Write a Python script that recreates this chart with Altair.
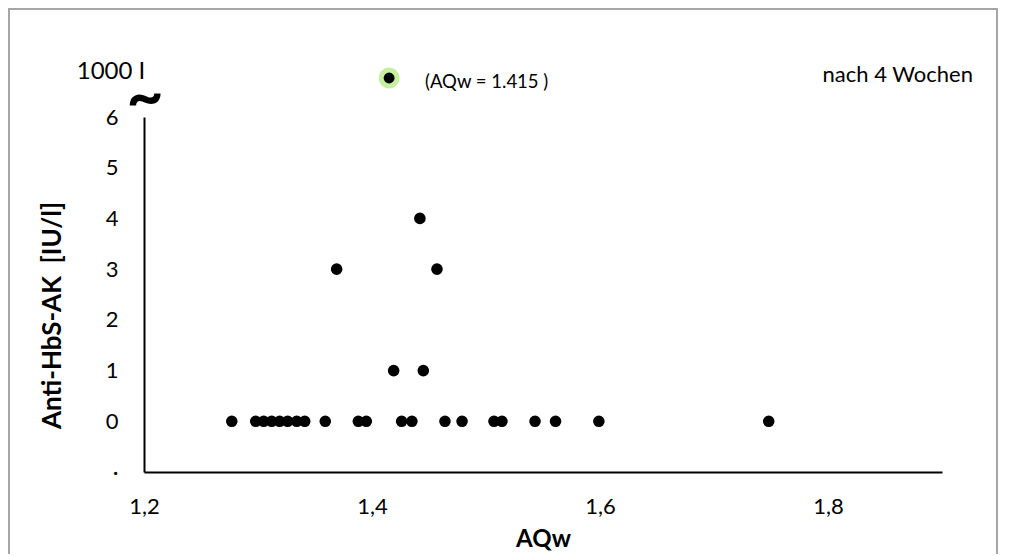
import altair as alt
import pandas as pd

# AQw values and Anti-HbS-AK titres (IU/l)
aqw = [1.277, 1.298, 1.305, 1.312, 1.319, 1.326, 1.334, 1.341, 1.359, 1.388,
       1.395, 1.426, 1.435, 1.464, 1.479, 1.507, 1.514, 1.543, 1.561, 1.599,
       1.748, 1.419, 1.445, 1.369, 1.457, 1.442]
titre = [0, 0, 0, 0, 0, 0, 0, 0, 0, 0,
         0, 0, 0, 0, 0, 0, 0, 0, 0, 0,
         0, 1, 1, 3, 3, 4]

# outlier above the axis break (1000 IU/l)
outlier_aqw = [1.415]
outlier_label = ["(AQw = 1.415 )"]

x_ticks = [1.2, 1.4, 1.6, 1.8]
y_ticks = [-1, 0, 1, 2, 3, 4, 5, 6]

FONT = "Lato"

df = pd.DataFrame({"aqw": aqw, "titre": titre})
df_out = pd.DataFrame({"aqw": outlier_aqw, "label": outlier_label})
one = pd.DataFrame({"k": [0]})

xscale = alt.Scale(domain=[1.2, 1.9], nice=False, zero=False)
yscale = alt.Scale(domain=[-1, 6], nice=False, zero=False)

x_axis = alt.Axis(
    values=x_ticks, format=".1f", labelExpr="replace(datum.label, '.', ',')",
    ticks=False, tickSize=0, grid=False, domainColor="black", domainWidth=2,
    labelFont=FONT, labelFontSize=22, labelColor="black", labelPadding=24,
    labelFlush=False, labelOverlap=False, labelBaseline="top",
    title="AQw", titleFont=FONT, titleFontSize=24, titleFontWeight="bold",
    titleColor="black", titleX=399, titleY=67, titleBaseline="middle",
    titleAlign="center",
)
y_axis = alt.Axis(
    values=y_ticks, labelExpr="datum.value == -1 ? '·' : datum.label",
    ticks=False, tickSize=0, grid=False, domainColor="black", domainWidth=2,
    labelFont=FONT, labelFontSize=22, labelColor="black", labelPadding=26,
    labelOverlap=False, labelFlush=False, labelBaseline="middle",
    title="Anti-HbS-AK\u00a0\u00a0[IU/l]", titleFont=FONT, titleFontSize=26,
    titleFontWeight="bold", titleColor="black", titleAngle=270,
    titleX=-92, titleY=198, titleBaseline="middle", titleAlign="center",
)

border = alt.Chart(one).mark_rect(
    fillOpacity=0, stroke="#a6a6a6", strokeWidth=2
).encode(
    x=alt.value(-135), x2=alt.value(853), y=alt.value(-108), y2=alt.value(700)
)

points = alt.Chart(df).mark_circle(size=135, color="black", opacity=1).encode(
    x=alt.X("aqw:Q", scale=xscale, axis=x_axis),
    y=alt.Y("titre:Q", scale=yscale, axis=y_axis),
)

outlier = alt.Chart(df_out).mark_point(
    shape="circle", filled=True, fill="black", stroke="#c6efa0",
    strokeWidth=5, size=254, opacity=1, fillOpacity=1, strokeOpacity=1
).encode(
    x=alt.X("aqw:Q", scale=xscale),
    y=alt.value(-39),
)

outlier_text = alt.Chart(df_out).mark_text(
    font=FONT, fontSize=18.5, color="black", align="left", baseline="middle"
).encode(
    x=alt.value(281), y=alt.value(-35), text="label:N"
)

break_value = alt.Chart(one).mark_text(
    text="1000 I", font=FONT, fontSize=24, color="black", align="center",
    baseline="middle"
).encode(x=alt.value(-33), y=alt.value(-45))

tilde = alt.Chart(one).mark_text(
    text="~", font=FONT, fontSize=64, fontWeight="bold", color="black",
    align="center", baseline="middle"
).encode(x=alt.value(1), y=alt.value(-18))

period = alt.Chart(one).mark_text(
    text="nach 4 Wochen", font=FONT, fontSize=22, color="black",
    align="right", baseline="middle"
).encode(x=alt.value(829), y=alt.value(-42))

chart = alt.layer(
    border, points, outlier, outlier_text, break_value, tilde, period
).properties(
    width=798, height=355,
    autosize=alt.AutoSizeParams(type="none"),
    padding={"left": 136, "top": 109, "right": 64, "bottom": 82},
).configure(
    font=FONT, view=alt.ViewConfig(stroke="transparent", strokeWidth=0)
)

chart.save("out.html", embed_options={"renderer": "svg", "actions": False})
